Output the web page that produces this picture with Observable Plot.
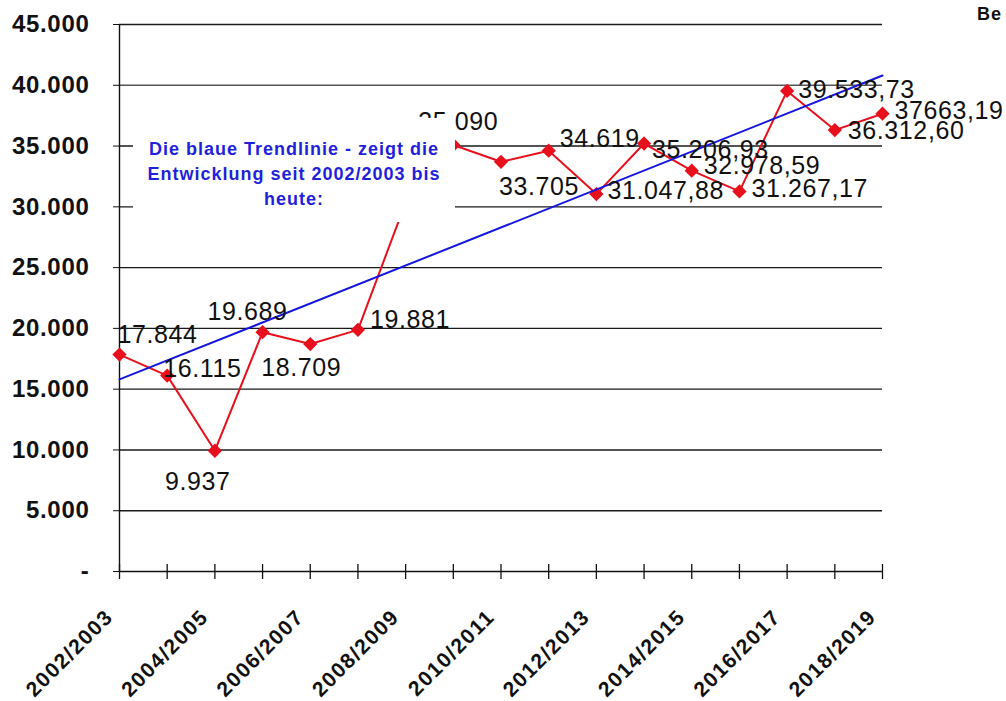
<!DOCTYPE html>
<html><head><meta charset="utf-8">
<script src="https://cdn.jsdelivr.net/npm/d3@7"></script>
<script src="https://cdn.jsdelivr.net/npm/@observablehq/plot@0.6"></script>
<style>
html,body{margin:0;padding:0;background:#fff;}
#chart{position:relative;width:1006px;height:701px;overflow:hidden;}
#chart svg{position:absolute;left:0;top:0;}
#be{position:absolute;left:977px;top:4px;font:bold 18px "Liberation Sans",Arial,sans-serif;letter-spacing:1px;color:#111;white-space:nowrap;}
#note{position:absolute;left:133px;top:118px;width:322px;height:104px;background:#fff;box-sizing:border-box;padding-top:19px;
  text-align:center;font:bold 18px/25px "Liberation Sans",Arial,sans-serif;color:#1f1fdc;letter-spacing:1px;white-space:pre;}
g[aria-label="y-axis tick label"] text{letter-spacing:0.7px}
.xlab text{letter-spacing:1.5px}
.vlab text{letter-spacing:0.6px}
</style></head><body>
<div id="chart"></div>
<script>
const seasons = ["2002/2003","2003/2004","2004/2005","2005/2006","2006/2007","2007/2008","2008/2009","2009/2010","2010/2011","2011/2012","2012/2013","2013/2014","2014/2015","2015/2016","2016/2017","2017/2018","2018/2019"];
const visitors = [17844,16115,9937,19689,18709,19881,30350,35090,33705,34619,31047.88,35206.93,32978.59,31267.17,39533.73,36312.60,37663.19];
const valueLabels = ["17.844","16.115","9.937","19.689","18.709","19.881","","35.090","33.705","34.619","31.047,88","35.206,93","32.978,59","31.267,17","39.533,73","36.312,60","37663,19"];
const trendValues = [15800, 40800];
const yTicks = [0,5000,10000,15000,20000,25000,30000,35000,40000,45000];
const noteText = "Die blaue Trendlinie - zeigt die\nEntwicklung seit 2002/2003 bis\nheute:";
const cornerText = "Be";

// label placement (layout, pixels): [dx, dy] from point to label start/middle
const labelOffsets = [[-2,-20],[-4,-7],[-50,31],[-55,-20],[-49,24],[12,-10],[0,0],[-35,-23],[-2,25],[11,-12],[11,-3],[8,6],[12,-5],[12,-2],[11,-1],[13,1],[12,-3]];

const pts = visitors.map((v,i)=>({i, v, label: valueLabels[i], season: seasons[i]}));
const trend = [{i:0, v:trendValues[0]}, {i:seasons.length-1, v:trendValues[1]}];
const idx = seasons.map((s,i)=>i);
const labIdx = idx.filter(i=>i%2===0);
const deFmt = d3.formatLocale({decimal:",", thousands:".", grouping:[3], currency:["","€"]}).format(",");
const font = "'Liberation Sans', Arial, sans-serif";
const RED = "#e8101c";

const labelMarks = pts.filter(d=>d.label).map(d=>Plot.text([d], {
  x:"i", y:"v", text:"label", textAnchor:"start", lineAnchor:"middle",
  dx: labelOffsets[d.i][0], dy: labelOffsets[d.i][1],
  fontSize:25, fill:"#111", className:"vlab"
}));

const chart = Plot.plot({
  width:1006, height:701,
  marginLeft:119, marginRight:124, marginTop:24, marginBottom:130,
  style:{fontFamily:font, background:"transparent", overflow:"visible"},
  x:{domain:[0, seasons.length-1], axis:null},
  y:{domain:[0,45000], axis:null},
  marks:[
    Plot.ruleY(yTicks.filter(d=>d>0), {stroke:d=>d===40000?"#555":"#1a1a1a", strokeWidth:1.4}),
    Plot.axisY({ticks:yTicks, tickFormat:d=>d===0?"-":deFmt(d), tickSize:6, tickPadding:24, fontSize:24, fontWeight:"bold", label:null, stroke:"#111", fill:"#111"}),
    Plot.ruleX([0], {stroke:"#111", strokeWidth:1.4}),
    Plot.ruleY([0], {stroke:"#111", strokeWidth:1.4}),
    Plot.ruleX(idx, {x:d=>d, y1:0, y2:0, insetTop:-7, insetBottom:-8, stroke:"#111", strokeWidth:1.3}),
    Plot.text(labIdx, {x:d=>d, y:0, text:d=>seasons[d], rotate:-45, textAnchor:"end", lineAnchor:"middle", dx:-10, dy:42, fontSize:21, fontWeight:"bold", fill:"#111", className:"xlab"}),
    Plot.line(pts, {x:"i", y:"v", stroke:RED, strokeWidth:2}),
    Plot.dot(pts, {x:"i", y:"v", symbol:"diamond2", r:5.5, fill:RED, stroke:RED}),
    Plot.line(trend, {x:"i", y:"v", stroke:"#1515e0", strokeWidth:2}),
    ...labelMarks
  ]
});
const root = document.getElementById("chart");
root.appendChild(chart);
const note = document.createElement("div");
note.id = "note"; note.textContent = noteText;
root.appendChild(note);
const be = document.createElement("div");
be.id = "be"; be.textContent = cornerText;
root.appendChild(be);
</script>
</body></html>
